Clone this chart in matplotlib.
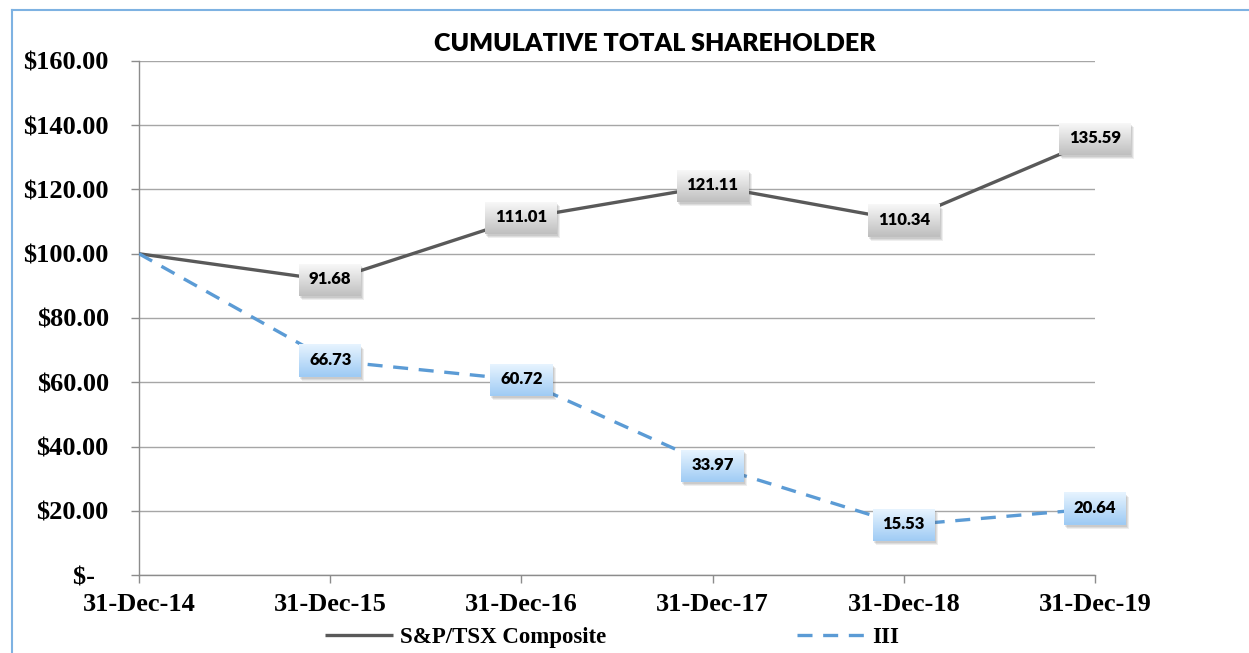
import matplotlib
matplotlib.use('Agg')
import matplotlib.pyplot as plt
import matplotlib.transforms as mtransforms
from matplotlib.patches import Rectangle
from matplotlib.lines import Line2D
from matplotlib.font_manager import FontProperties
import numpy as np

# ---- data ----
dates = ['31-Dec-14', '31-Dec-15', '31-Dec-16', '31-Dec-17', '31-Dec-18', '31-Dec-19']
sp_tsx = [100.00, 91.68, 111.01, 121.11, 110.34, 135.59]
iii = [100.00, 66.73, 60.72, 33.97, 15.53, 20.64]
y_ticks = [0, 20, 40, 60, 80, 100, 120, 140, 160]
y_tick_labels = ['$-  ', '$20.00', '$40.00', '$60.00', '$80.00', '$100.00',
                 '$120.00', '$140.00', '$160.00']
title = 'CUMULATIVE TOTAL SHAREHOLDER'
series_names = ['S&P/TSX Composite', 'III']

W, H = 1249, 653
DPI = 100
fig = plt.figure(figsize=(W / DPI, H / DPI), dpi=DPI)
fig.patch.set_facecolor('white')

ax = fig.add_axes([139 / W, 1 - 575 / H, (1095 - 139) / W, (575 - 61) / H])

x = np.arange(len(dates))
grid_col = '#A6A6A6'
sp_col = '#595959'
iii_col = '#5B9BD5'

serif_bold = FontProperties(family='Liberation Serif', weight='bold', size=19)
legend_font = FontProperties(family='Liberation Serif', weight='bold', size=16.5)
label_font = FontProperties(family='Lato', weight='heavy', size=12)
title_font = FontProperties(family='Lato', weight='heavy', size=18)

ax.set_xlim(0, len(dates) - 1)
ax.set_ylim(0, 160)
ax.set_yticks(y_ticks)
ax.set_yticklabels(y_tick_labels, fontproperties=serif_bold)
ax.set_xticks(x)
ax.set_xticklabels(dates, fontproperties=serif_bold)
ax.yaxis.grid(True, color=grid_col, linewidth=1.0)
ax.set_axisbelow(True)
for s in ['top', 'right']:
    ax.spines[s].set_visible(False)
for s in ['left', 'bottom']:
    ax.spines[s].set_color('#8C8C8C')
    ax.spines[s].set_linewidth(1.0)
ax.tick_params(axis='y', length=5.8, color='#8C8C8C', width=1.0, pad=16)
ax.tick_params(axis='x', length=5.8, color='#8C8C8C', width=1.0, pad=7)

l1, = ax.plot(x, sp_tsx, color=sp_col, linewidth=2.4, solid_capstyle='butt',
              zorder=3, label=series_names[0])
l2, = ax.plot(x, iii, color=iii_col, linewidth=2.4, dashes=(4.5, 3.2),
              zorder=3, label=series_names[1])

# ---- data labels with gradient boxes ----
renderer = fig.canvas.get_renderer()


def add_label(xi, yi, text, top_col, bot_col):
    base = mtransforms.ScaledTranslation(xi, yi, ax.transData)
    trans = mtransforms.Affine2D() + base
    t = ax.text(0, 1, text, transform=trans, ha='center', va='center',
                fontproperties=label_font, color='black', zorder=7)
    bb = t.get_window_extent(renderer)
    w = bb.width + 20
    h = 32
    # soft shadow
    for dx, dy, a in [(3, -4, 0.10), (2, -3, 0.12), (1, -2, 0.14)]:
        ax.add_patch(Rectangle((-w / 2 + dx, -h / 2 + dy), w, h, transform=trans,
                               facecolor='#606060', alpha=a, edgecolor='none',
                               zorder=5, clip_on=False))
    n = 32
    tc = np.array(matplotlib.colors.to_rgb(top_col))
    bc = np.array(matplotlib.colors.to_rgb(bot_col))
    for k in range(n):
        f = k / (n - 1)
        c = tc * (1 - f) + bc * f
        y0 = h / 2 - (k + 1) * h / n
        ax.add_patch(Rectangle((-w / 2, y0), w, h / n + 0.3, transform=trans,
                               facecolor=c, edgecolor='none', zorder=6,
                               clip_on=False))


for i in range(1, len(dates)):
    add_label(x[i], sp_tsx[i], f'{sp_tsx[i]:.2f}', '#F7F7F7', '#BFBFBF')
    add_label(x[i], iii[i], f'{iii[i]:.2f}', '#E6F3FE', '#9FCBF4')

# ---- title ----
fig.text(655 / W, 1 - 44 / H, title, ha='center', va='center',
         fontproperties=title_font)

# ---- legend ----
fig.legend(handles=[l1, l2], loc='center', bbox_to_anchor=(612 / W, 1 - 637 / H),
           ncol=2, frameon=False, prop=legend_font, handlelength=3.0,
           handletextpad=0.3, columnspacing=8.3, borderaxespad=0, borderpad=0)

# ---- outer blue frame (left and top edges) ----
frame_col = '#7EB2E2'
fig.add_artist(Line2D([12 / W, 12 / W], [0, 1 - 10 / H], transform=fig.transFigure,
                      color=frame_col, linewidth=1.5))
fig.add_artist(Line2D([12 / W, 1], [1 - 10 / H, 1 - 10 / H], transform=fig.transFigure,
                      color=frame_col, linewidth=1.5))

fig.savefig('out.png', dpi=DPI, facecolor='white')
